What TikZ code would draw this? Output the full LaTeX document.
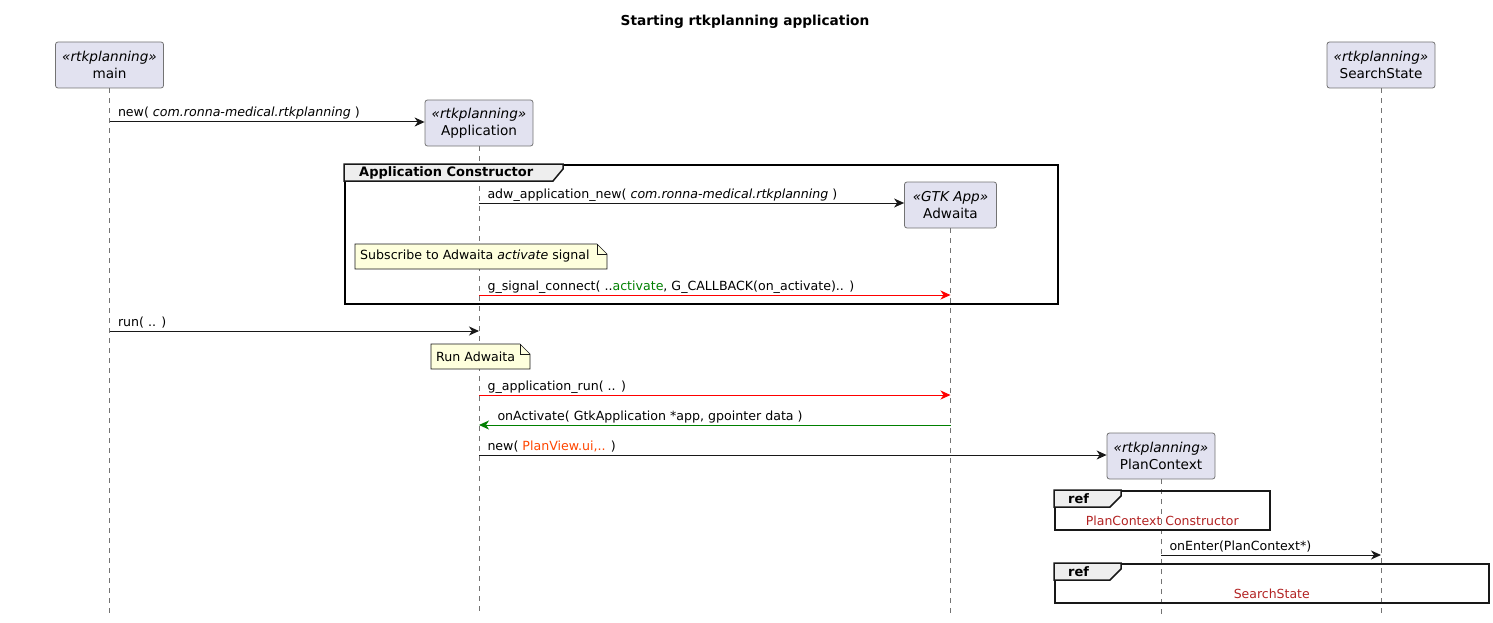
\documentclass[tikz,border=0pt]{standalone}
\usepackage{fontspec}
\setmainfont{DejaVu Sans}
\usetikzlibrary{arrows.meta,positioning}

\definecolor{partfill}{HTML}{E2E2F0}
\definecolor{partline}{HTML}{181818}
\definecolor{notefill}{HTML}{FEFFDD}
\definecolor{tabfill}{HTML}{EEEEEE}
\definecolor{callgreen}{HTML}{008000}
\definecolor{uired}{HTML}{FF4500}
\definecolor{refred}{HTML}{B22222}

\begin{document}
\begin{tikzpicture}[
		x=1pt, y=-1pt,
		font=\fontsize{12.6}{15}\selectfont,
		arrow/.style={-{Stealth[length=10pt,width=9pt,inset=3pt]}, draw=partline, line width=1pt},
		redarrow/.style={arrow, draw=red},
		greenarrow/.style={arrow, draw=callgreen},
		participant/.style={draw=black!55, fill=partfill, rounded corners=2.5pt, line width=0.8pt, minimum width=108pt, minimum height=46pt, inner sep=0pt, align=center, font=\fontsize{13.6}{17}\selectfont},
		lifeline/.style={draw=black!55, line width=0.8pt, dash pattern=on 5pt off 5pt},
		msg/.style={anchor=base west, inner sep=0pt, xshift=8pt, yshift=5pt},
		group/.style={draw=black, line width=2pt, inner sep=0pt},
		refframe/.style={draw=partline, line width=1.5pt, inner sep=0pt},
		tab/.style={draw=partline, fill=tabfill, line width=1.5pt},
		tablabel/.style={anchor=west, inner sep=0pt, font=\bfseries\fontsize{13}{15}\selectfont},
		reftext/.style={anchor=center, inner sep=0pt, text=refred, font=\fontsize{12.5}{15}\selectfont},
		note/.style={draw=partline, fill=notefill, line width=0.6pt},
		fold/.style={draw=partline, line width=0.6pt},
	]
		\useasboundingbox (0,0) rectangle (1493,623);
		\node (title) [font=\bfseries\fontsize{13.7}{16}\selectfont] at (745,22) {Starting rtkplanning application};

		% participants
		\node (main) [participant] at (109.5,65) {\textit{«rtkplanning»}\\main};
		\node (state) [participant] at (1381,65) {\textit{«rtkplanning»}\\SearchState};
		\coordinate (end) at (0,615);

		% message rows
		\coordinate (m1) at (0,122);
		\coordinate (m2) at (0,203);
		\coordinate (m3) at (0,295);
		\coordinate (m4) at (0,331);
		\coordinate (m5) at (0,395);
		\coordinate (m6) at (0,425);
		\coordinate (m7) at (0,455);
		\coordinate (m8) at (0,555);

		\node (app) [participant] at (479,123) {\textit{«rtkplanning»}\\Application};
		\node (adw) [participant, minimum width=92pt] at (950.5,205) {\textit{«GTK App»}\\Adwaita};
		\node (ctx) [participant] at (1161,456) {\textit{«rtkplanning»}\\PlanContext};

		\draw[lifeline] (main.south) -- (main.south |- end);
		\draw[lifeline] (app.south) -- (app.south |- end);
		\draw[lifeline] (adw.south) -- (adw.south |- end);
		\draw[lifeline] (ctx.south) -- (ctx.south |- end);
		\draw[lifeline] (state.south) -- (state.south |- end);

		% Application constructor
		\node (ctor) [group, minimum width=713pt, minimum height=139pt, anchor=north west] at (344,164) {};
		\filldraw[tab] (ctor.north west) -- ++(219,0) -- ++(0,5) -- ++(-10,12) -- ++(-209,0) -- cycle;
		\node (ctorlabel) [tablabel] at ([xshift=15pt,yshift=-9pt]ctor.north west) {Application Constructor};

		\draw[arrow] (main |- m1) -- (app.west |- m1) node[msg, at start] {new( \textit{com.ronna-medical.rtkplanning} )};
		\draw[arrow] (app |- m2) -- (adw.west |- m2) node[msg, at start] {adw\_application\_new( \textit{com.ronna-medical.rtkplanning} )};

		\filldraw[note] (355,244) -- ++(242,0) -- ++(10,10) -- ++(0,15) -- ++(-252,0) -- cycle;
		\draw[fold] (597,244) |- (607,254);
		\node (subnote) [anchor=west, inner sep=0pt] at (360,256.5) {Subscribe to Adwaita \textit{activate} signal};

		\draw[redarrow] (app |- m3) -- (adw |- m3) node[msg, at start] {g\_signal\_connect( ..\textcolor{callgreen}{activate}, G\_CALLBACK(on\_activate).. )};

		\draw[arrow] (main |- m4) -- (app |- m4) node[msg, at start] {run( .. )};

		\filldraw[note] (431,344) -- ++(89,0) -- ++(10,10) -- ++(0,15) -- ++(-99,0) -- cycle;
		\draw[fold] (520,344) |- (530,354);
		\node (runnote) [anchor=west, inner sep=0pt] at (436,356.5) {Run Adwaita};

		\draw[redarrow] (app |- m5) -- (adw |- m5) node[msg, at start] {g\_application\_run( .. )};
		\draw[greenarrow] (adw |- m6) -- (app |- m6) node[msg, at end, xshift=10pt] {onActivate( GtkApplication *app, gpointer data )};
		\draw[arrow] (app |- m7) -- (ctx.west |- m7) node[msg, at start] {new( \textcolor{uired}{PlanView.ui,..} )};

		% references
		\node (ctxref) [refframe, minimum width=215pt, minimum height=39pt, anchor=north west] at (1054,490) {};
		\filldraw[tab] (ctxref.north west) -- ++(67,0) -- ++(0,6) -- ++(-11,11) -- ++(-56,0) -- cycle;
		\node (ctxreflabel) [tablabel] at ([xshift=14pt,yshift=-9pt]ctxref.north west) {ref};
		\node (ctxreftext) [reftext] at ([yshift=10pt]ctxref.south) {PlanContext Constructor};

		\draw[arrow] (ctx |- m8) -- (state |- m8) node[msg, at start] {onEnter(PlanContext*)};

		\node (stateref) [refframe, minimum width=434pt, minimum height=39pt, anchor=north west] at (1054,563) {};
		\filldraw[tab] (stateref.north west) -- ++(67,0) -- ++(0,6) -- ++(-11,11) -- ++(-56,0) -- cycle;
		\node (statereflabel) [tablabel] at ([xshift=14pt,yshift=-9pt]stateref.north west) {ref};
		\node (statereftext) [reftext] at ([yshift=10pt]stateref.south) {SearchState};
	\end{tikzpicture}
\end{document}
